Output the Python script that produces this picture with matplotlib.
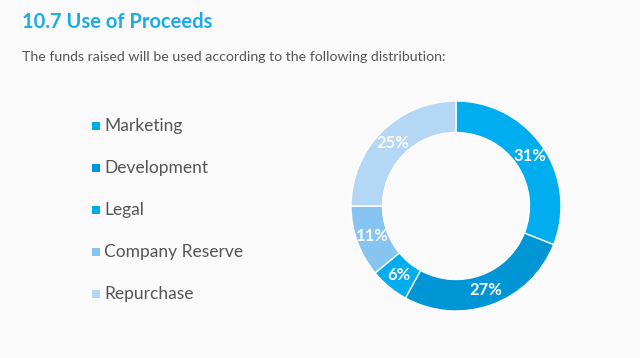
import math
import matplotlib.pyplot as plt
from matplotlib.patches import Rectangle

categories = ["Marketing", "Development", "Legal", "Company Reserve", "Repurchase"]
shares = [31, 27, 6, 11, 25]
colors = ["#00AEEF", "#0096D6", "#00AEEF", "#86C4F1", "#B5D7F6"]

title = "10.7 Use of Proceeds"
subtitle = "The funds raised will be used according to the following distribution:"

W, H = 640, 358
fig = plt.figure(figsize=(W / 100, H / 100), dpi=100)
fig.patch.set_facecolor("#FAFAFA")
plt.rcParams['font.family'] = ['Lato', 'DejaVu Sans']

# header
fig.text(22 / W, 1 - 22 / H, title, fontsize=14.5, fontweight="bold",
         color="#1AACE8", va="center", ha="left")
fig.text(22 / W, 1 - 57 / H, subtitle, fontsize=10.2, color="#555555",
         va="center", ha="left")

# legend, drawn by hand
for i, (name, col) in enumerate(zip(categories, colors)):
    y = 126 + i * 42
    fig.add_artist(Rectangle((92 / W, 1 - (y + 4) / H), 8 / W, 8 / H,
                             transform=fig.transFigure, color=col, lw=0))
    fig.text(104 / W, 1 - y / H, name, fontsize=12.5, color="#555555",
             va="center", ha="left")

# donut
cx, cy, r = 456, 206, 105
ax = fig.add_axes([(cx - r) / W, 1 - (cy + r) / H, 2 * r / W, 2 * r / H])
ax.set_facecolor("none")
wedges, texts = ax.pie(shares, colors=colors, startangle=90, counterclock=False,
                       radius=1, wedgeprops=dict(width=0.3, edgecolor="white", linewidth=1))
acc = 0
for val in shares:
    mid = 90 - (acc + val / 2) * 3.6
    acc += val
    rr = 0.85
    ax.text(rr * math.cos(math.radians(mid)), rr * math.sin(math.radians(mid)),
            "{}%".format(val), color="white", fontsize=12, fontweight="bold",
            ha="center", va="center")
ax.set_xlim(-1, 1)
ax.set_ylim(-1, 1)
ax.set_aspect("equal")
ax.axis("off")

fig.savefig("out.png", dpi=100, facecolor=fig.get_facecolor())
